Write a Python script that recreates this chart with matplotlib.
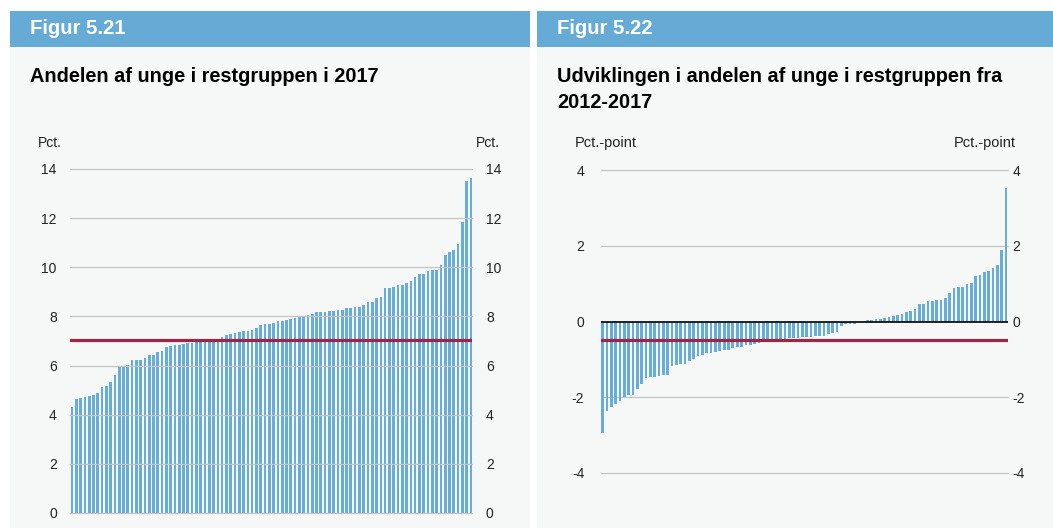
import numpy as np
import matplotlib
matplotlib.use('Agg')
import matplotlib.pyplot as plt
from matplotlib.patches import Rectangle

plt.rcParams['font.family'] = ['Liberation Sans', 'DejaVu Sans']
plt.rcParams['axes.unicode_minus'] = False

# Figur 5.21 - andel unge i restgruppen 2017 (pct.), sorteret
share_2017 = [4.33, 4.62, 4.67, 4.74, 4.78, 4.82, 4.90, 5.14, 5.16, 5.34, 5.62, 5.93,
              5.95, 6.01, 6.21, 6.22, 6.23, 6.30, 6.45, 6.45, 6.54, 6.61, 6.74,
              6.80, 6.83, 6.85, 6.89, 6.91, 6.93, 6.94, 6.98, 7.00, 7.02, 7.03, 7.05,
              7.15, 7.23, 7.27, 7.32, 7.36, 7.40, 7.40, 7.45, 7.52, 7.66, 7.69, 7.69,
              7.75, 7.81, 7.82, 7.84, 7.88, 7.95, 8.00, 8.03, 8.05, 8.11, 8.18, 8.18,
              8.18, 8.22, 8.22, 8.28, 8.28, 8.34, 8.36, 8.38, 8.39, 8.46, 8.59, 8.59, 8.75,
              8.79, 9.15, 9.15, 9.20, 9.27, 9.29, 9.38, 9.46, 9.59, 9.74, 9.74, 9.84,
              9.88, 9.88, 10.11, 10.52, 10.61, 10.69, 10.95, 11.84, 13.53, 13.62]
mean_2017 = 7.05

# Figur 5.22 - udvikling 2012-2017 (pct.-point), sorteret
change = [-2.94, -2.37, -2.27, -2.19, -2.09, -2.00, -1.95, -1.95, -1.79, -1.66, -1.48,
          -1.46, -1.46, -1.44, -1.41, -1.40, -1.18, -1.15, -1.13, -1.11, -1.03, -0.98, -0.92,
          -0.88, -0.84, -0.82, -0.80, -0.78, -0.75, -0.74, -0.71, -0.68, -0.67, -0.62,
          -0.61, -0.60, -0.58, -0.54, -0.50, -0.49, -0.48, -0.47, -0.46, -0.44, -0.43,
          -0.43, -0.41, -0.41, -0.40, -0.39, -0.39, -0.38, -0.32, -0.30, -0.29, -0.13,
          -0.07, -0.06, -0.06, 0.0, 0.0, 0.03, 0.03, 0.06, 0.07, 0.09, 0.11, 0.15, 0.17,
          0.21, 0.24, 0.29, 0.34, 0.47, 0.47, 0.53, 0.53, 0.57, 0.58, 0.62, 0.75, 0.88,
          0.90, 0.90, 1.00, 1.02, 1.20, 1.24, 1.31, 1.34, 1.41, 1.48, 1.90, 3.52]
mean_change = -0.50

left_ticks = [0, 2, 4, 6, 8, 10, 12, 14]
right_ticks = [-4, -2, 0, 2, 4]

W, H = 1053, 528
bar_col = '#68acd9'
mean_col = '#9c2646'
grid_col = '#c4c4c4'
head_col = '#66abd6'
panel_col = '#f6f8f8'
txt_col = '#222222'

fig = plt.figure(figsize=(W / 100, H / 100), dpi=100)
fig.patch.set_facecolor('white')


def fx(px):
    return px / W


def fy(py):
    return 1 - py / H


def panel(x0, x1, label, title_lines):
    fig.add_artist(Rectangle((fx(x0), 0), fx(x1 - x0), fy(47), transform=fig.transFigure,
                             facecolor=panel_col, edgecolor='none', zorder=0))
    fig.add_artist(Rectangle((fx(x0), fy(47)), fx(x1 - x0), (47 - 11) / H, transform=fig.transFigure,
                             facecolor=head_col, edgecolor='none', zorder=0))
    fig.text(fx(x0 + 20), fy(29), label, color='white', fontsize=14.6, fontweight='bold',
             va='center', ha='left')
    for k, t in enumerate(title_lines):
        fig.text(fx(x0 + 20), fy(76 + 27 * k), t, color='black', fontsize=14.3,
                 fontweight='bold', va='center', ha='left')


def style(ax, ticks, pad_l, pad_r):
    ax.set_yticks(ticks)
    ax.set_xticks([])
    ax.tick_params(axis='y', length=0, pad=pad_l, labelsize=10, labelcolor=txt_col)
    for s in ax.spines.values():
        s.set_visible(False)
    axr = ax.twinx()
    axr.set_ylim(ax.get_ylim())
    axr.set_yticks(ticks)
    axr.tick_params(axis='y', length=0, pad=pad_r, labelsize=10, labelcolor=txt_col)
    for s in axr.spines.values():
        s.set_visible(False)


panel(10, 530, 'Figur 5.21', ['Andelen af unge i restgruppen i 2017'])
panel(537, 1053, 'Figur 5.22', ['Udviklingen i andelen af unge i restgruppen fra', '2012-2017'])

# ---- left chart
ax1 = fig.add_axes([fx(70), fy(513), fx(472 - 70), (513 - 169) / H])
ax1.set_facecolor('none')
x = np.arange(len(share_2017))
ax1.bar(x, share_2017, width=0.62, color=bar_col, zorder=2)
ax1.axhline(mean_2017, color=mean_col, lw=2.3, zorder=4)
for t in left_ticks:
    ax1.axhline(t, color=grid_col, lw=0.9, zorder=3, clip_on=False)
ax1.set_ylim(0, 14)
ax1.set_xlim(-0.47, 93.25)
style(ax1, left_ticks, 9.5, 10)
fig.text(fx(38), fy(143), 'Pct.', fontsize=10, color=txt_col, va='center', ha='left')
fig.text(fx(500), fy(143), 'Pct.', fontsize=10, color=txt_col, va='center', ha='right')

# ---- right chart
ax2 = fig.add_axes([fx(601), fy(473), fx(1008 - 601), (473 - 170) / H])
ax2.set_facecolor('none')
x2 = np.arange(len(change))
ax2.bar(x2, change, width=0.62, color=bar_col, zorder=2)
for t in right_ticks:
    if t != 0:
        ax2.axhline(t, color=grid_col, lw=0.9, zorder=1, clip_on=False)
ax2.axhline(0, color='black', lw=1.2, zorder=3)
ax2.axhline(mean_change, color=mean_col, lw=2.3, zorder=4)
ax2.set_ylim(-4, 4)
ax2.set_xlim(-0.4, 93.45)
style(ax2, right_ticks, 12, 3)
fig.text(fx(575), fy(143), 'Pct.-point', fontsize=10.5, color=txt_col, va='center', ha='left')
fig.text(fx(1016), fy(143), 'Pct.-point', fontsize=10.5, color=txt_col, va='center', ha='right')

fig.savefig('out.png', dpi=100, facecolor=fig.get_facecolor())
